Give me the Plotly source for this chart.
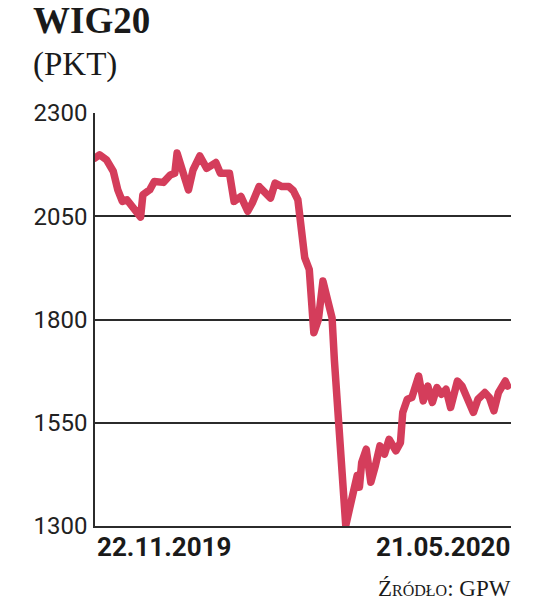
"""
WIG20 index, 22.11.2019 - 21.05.2020 (newspaper style line chart).
"""

import plotly.graph_objects as go


# ── Data ──────────────────────────────────────────────────────────────────────

dates = [
    "2019-11-22", "2019-11-24", "2019-11-27", "2019-11-30", "2019-12-02",
    "2019-12-04", "2019-12-06", "2019-12-09", "2019-12-12", "2019-12-13",
    "2019-12-16", "2019-12-18", "2019-12-22", "2019-12-25", "2019-12-27",
    "2019-12-28", "2019-12-31", "2020-01-02", "2020-01-04", "2020-01-07",
    "2020-01-10", "2020-01-14", "2020-01-16", "2020-01-20", "2020-01-22",
    "2020-01-25", "2020-01-28", "2020-01-30", "2020-02-02", "2020-02-04",
    "2020-02-07", "2020-02-09", "2020-02-12", "2020-02-15", "2020-02-17",
    "2020-02-19", "2020-02-20", "2020-02-22", "2020-02-24", "2020-02-26",
    "2020-02-28", "2020-03-01", "2020-03-03", "2020-03-05", "2020-03-06",
    "2020-03-07", "2020-03-08", "2020-03-09", "2020-03-11", "2020-03-13",
    "2020-03-15", "2020-03-16", "2020-03-17", "2020-03-18", "2020-03-20",
    "2020-03-22", "2020-03-24", "2020-03-26", "2020-03-28", "2020-03-30",
    "2020-04-02", "2020-04-04", "2020-04-05", "2020-04-07", "2020-04-09",
    "2020-04-12", "2020-04-14", "2020-04-16", "2020-04-18", "2020-04-20",
    "2020-04-22", "2020-04-24", "2020-04-26", "2020-04-29", "2020-05-01",
    "2020-05-04", "2020-05-06", "2020-05-08", "2020-05-11", "2020-05-13",
    "2020-05-15", "2020-05-17", "2020-05-20", "2020-05-21",
]

wig20 = [
    2191, 2199, 2187, 2159, 2114, 2086, 2090, 2070, 2048, 2102,
    2114, 2134, 2132, 2150, 2154, 2203, 2154, 2114, 2162, 2196,
    2166, 2180, 2154, 2154, 2086, 2098, 2062, 2082, 2122, 2110,
    2094, 2130, 2122, 2122, 2112, 2090, 2034, 1950, 1921, 1768,
    1800, 1893, 1848, 1804, 1703, 1623, 1599, 1510, 1301, 1350,
    1414, 1422, 1394, 1454, 1486, 1406, 1446, 1494, 1474, 1510,
    1482, 1502, 1575, 1607, 1611, 1663, 1603, 1639, 1599, 1635,
    1619, 1631, 1587, 1651, 1639, 1595, 1575, 1607, 1623, 1611,
    1579, 1623, 1651, 1639,
]

y_ticks = [1300, 1550, 1800, 2050, 2300]
date_labels = ["22.11.2019", "21.05.2020"]

title = "WIG20"
unit = "(PKT)"
source = "Źródło: GPW"


# ── Layout helpers ────────────────────────────────────────────────────────────

W, H = 536, 600
PLOT_L, PLOT_R, PLOT_T, PLOT_B = 95, 511.5, 113, 526.5
INK = "#2b2b2b"
TEXT = "#1a1a1a"
RED = "#d43d5b"


def px_x(x):
    return (x - PLOT_L) / (PLOT_R - PLOT_L)


def px_y(y):
    return (PLOT_B - y) / (PLOT_B - PLOT_T)


# ── Figure ────────────────────────────────────────────────────────────────────

fig = go.Figure(go.Scatter(
    x=dates, y=wig20, mode="lines",
    line=dict(color=RED, width=7.5),
    hoverinfo="skip", showlegend=False,
))

fig.update_xaxes(
    type="date", range=["2019-11-22", "2020-05-22 12:00"],
    showgrid=False, zeroline=False, showticklabels=False,
    showline=True, linecolor=INK, linewidth=1.5,
)
fig.update_yaxes(
    range=[1300, 2300], tickvals=y_ticks,
    showgrid=True, gridcolor=INK, gridwidth=1.5,
    zeroline=False, showline=True, linecolor=INK, linewidth=1.5,
    ticks="", ticklabelstandoff=1,
    tickfont=dict(family="Roboto", size=24, color="#222"),
)

annotations = [
    dict(text=f"<b>{title}</b>", x=px_x(31), y=px_y(20), xanchor="left", yanchor="middle",
         font=dict(family="Liberation Serif", size=37, color=TEXT)),
    dict(text=unit, x=px_x(31), y=px_y(64), xanchor="left", yanchor="middle",
         font=dict(family="Liberation Serif", size=33, color=TEXT)),
    dict(text=f"<b>{date_labels[0]}</b>", x=dates[0], xref="x", y=px_y(548),
         xanchor="left", yanchor="middle",
         font=dict(family="Roboto", size=26, color=TEXT)),
    dict(text=f"<b>{date_labels[1]}</b>", x=px_x(512.5), y=px_y(548),
         xanchor="right", yanchor="middle",
         font=dict(family="Roboto", size=26, color=TEXT)),
    dict(text=source, x=px_x(514), y=px_y(589), xanchor="right", yanchor="middle",
         font=dict(family="Liberation Serif", size=23, color=TEXT, variant="small-caps")),
]
for a in annotations:
    a.setdefault("xref", "paper")
    a["yref"] = "paper"
    a["showarrow"] = False

fig.update_layout(
    width=W, height=H,
    margin=dict(l=PLOT_L, r=W - PLOT_R, t=PLOT_T, b=H - PLOT_B),
    paper_bgcolor="white", plot_bgcolor="white",
    annotations=annotations,
)

# page margin off, round joins on the thick line
fig.write_html("out.html", config={"displayModeBar": False}, post_script=(
    "document.body.style.margin='0';"
    "document.querySelectorAll('.js-line').forEach(function(p){"
    "p.style.strokeLinejoin='round';p.style.strokeLinecap='round';});"
))
